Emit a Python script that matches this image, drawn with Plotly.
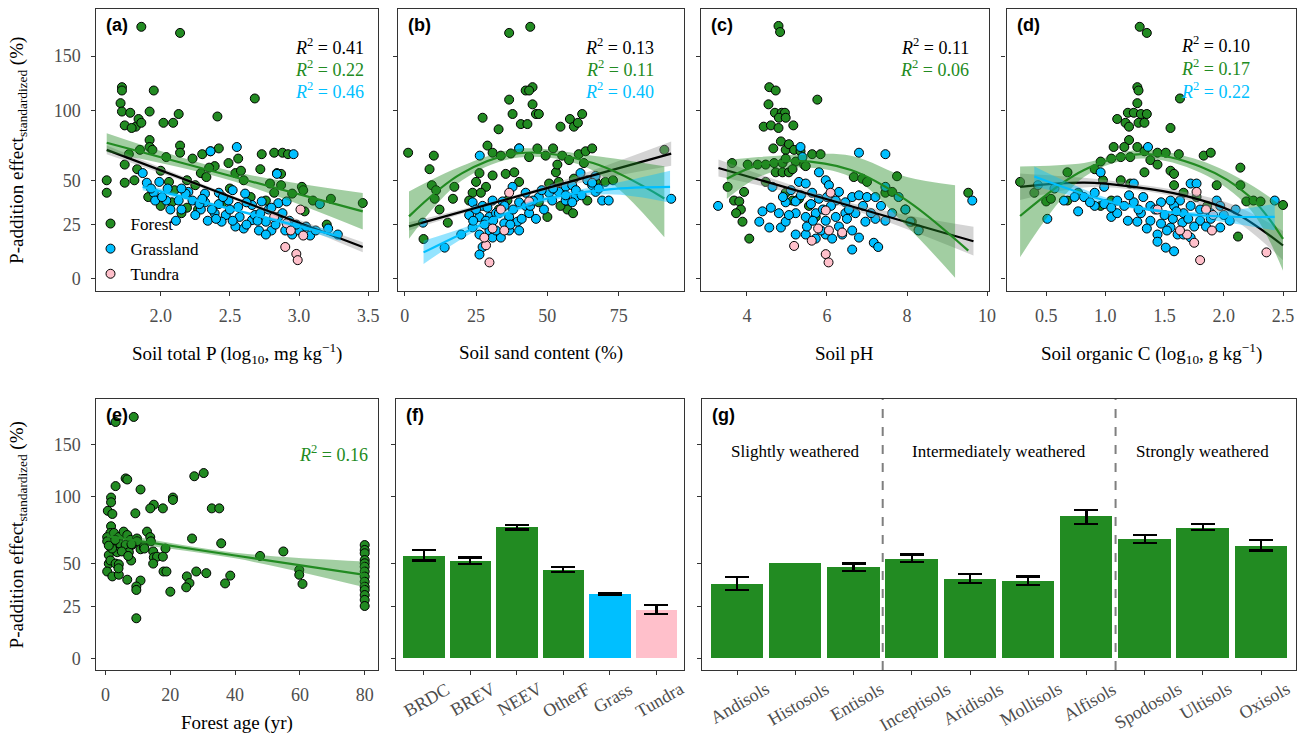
import numpy as np
import plotly.graph_objects as go

# ----------------------------- data -----------------------------
y_ticks_pct = [0, 25, 50, 100, 150]

# (a) soil total P (log10 mg/kg) vs effect (%)
a_forest_x = [1.86, 2.14, 1.72, 1.72, 1.95, 1.71, 2.68, 1.72, 1.78, 1.92, 2.13, 2.41, 1.74, 1.82, 1.84, 1.86, 2.02, 2.09, 1.79, 1.92,
              2.14, 1.92, 1.94, 2.42, 2.30, 2.36, 1.85, 2.73, 2.82, 2.88, 2.92, 2.04, 2.14, 2.23, 1.77, 1.74, 2.49, 2.56, 2.39, 2.29,
              1.83, 2.72, 2.84, 2.87, 1.61, 1.61, 1.74, 1.81, 1.91, 2.06, 2.19, 2.19, 2.27, 2.15, 2.54, 2.79, 2.87, 3.02, 3.03, 2.82,
              3.23, 3.46, 2.76, 3.04, 3.20, 2.45, 2.08, 2.0, 2.1, 2.25, 2.33, 2.5, 2.6, 2.65, 2.95, 3.1, 2.35, 2.58, 2.0]
a_forest_y = [182, 175, 120, 117, 117, 106, 110, 99, 98, 99, 97, 95, 88, 87, 93, 90, 90, 90, 86, 77,
              73, 72, 70, 71, 67, 69, 70, 67, 68, 68, 67, 65, 68, 64, 67, 60, 61, 64, 59, 54.5,
              57, 57, 54.5, 54, 50, 42.5, 48.5, 50, 40, 49, 50, 34, 33, 31, 54.5, 48, 47, 46, 44, 42.5,
              39, 36.6, 38, 32, 25, 37, 37, 56, 44, 47, 52, 45, 50, 40, 42, 38, 58, 56, 35]
a_grass_x = [2.55, 2.36, 2.96, 2.84, 1.87, 1.90, 1.99, 1.95, 1.96, 2.04, 2.13, 2.20, 2.32, 2.42, 2.52, 2.61, 2.23, 2.32, 2.42, 2.49,
             2.56, 2.66, 2.73, 2.07, 2.29, 2.39, 2.47, 2.57, 2.66, 2.76, 2.80, 2.85, 2.90, 2.95, 3.00, 3.08, 3.21, 3.28, 2.71, 2.60,
             2.76, 2.85, 2.91, 3.15, 2.11, 2.01, 2.18, 2.34, 2.44, 2.54, 2.28, 2.37, 2.45, 2.5, 2.62, 2.68, 2.7, 2.78, 2.83, 2.88,
             2.93, 2.98, 3.05, 3.12, 2.15, 2.05, 1.93, 2.25, 2.4, 2.52, 2.62, 2.72, 2.8, 2.3, 2.15]
a_grass_y = [72, 69, 67, 54, 54.5, 48.5, 49, 42.5, 38, 38, 38, 43, 42, 42.5, 44, 42, 38, 37, 36, 38,
             34.4, 35.5, 37.5, 33, 33, 31, 30, 29, 27.3, 26.5, 22, 29, 22, 20, 22, 19.5, 23, 20, 22, 23,
             20, 36.5, 37.5, 36, 27, 40, 42, 27, 26.5, 24, 36, 33, 40, 33, 37, 30, 27, 33, 25, 31,
             27, 25, 24, 22, 45, 45, 45, 30, 28, 27, 25, 31, 34, 39, 33]
a_tundra_x = [3.01, 2.91, 2.94, 2.90, 2.98, 2.99, 2.82, 3.03]
a_tundra_y = [33, 25.6, 22, 14, 10.8, 8, 29, 19.5]
a_black_x, a_black_mid, a_black_lo, a_black_hi = [1.61, 2.5, 3.46], [70, 40.3, 14], [67, 39.3, 11.6], [73, 41.3, 16.3]
a_green_x, a_green_mid, a_green_lo, a_green_hi = [1.61, 2.5, 3.46], [75, 52.8, 32], [68.5, 50, 22.5], [82, 56, 42.3]
a_blue_x, a_blue_mid, a_blue_lo, a_blue_hi = [1.87, 2.6, 3.30], [46, 31.5, 19], [44, 30.8, 16.9], [48, 32.3, 21.2]

# (b) soil sand content (%)
b_forest_x = [36.6, 44.0, 44.8, 42.4, 43.6, 36.6, 44.8, 46, 47, 27.3, 37.8, 40.7, 43, 32.9, 57.9, 62.2, 59.3, 54.6, 60.7, 1.2,
              10.2, 8.7, 29, 30.8, 33.7, 37.2, 40.1, 46.5, 52, 55.2, 57.6, 61, 63.4, 65.7, 43.6, 49.4, 26.2, 25, 28.5, 35.4,
              38.4, 40.1, 30.8, 53, 53.5, 50.6, 54, 59.3, 62.8, 67, 70.3, 73, 91, 9.5, 11, 10.5, 12.2, 16.9, 17.4, 15.1,
              6.6, 23.8, 26.7, 22.6, 50, 57, 59, 54.6, 64, 33, 36, 47]
b_forest_y = [175, 182, 120, 117, 117, 109, 105, 97, 97, 94, 97, 89, 89, 85, 93, 97, 87, 87, 90, 68,
              66, 57, 73, 68, 66, 67.5, 71, 71, 71, 66, 63, 67, 69, 71, 65, 66, 54.5, 49, 46, 54,
              55, 49, 53, 55, 60, 48, 49, 51, 61, 49, 49, 50, 70, 47, 44, 39, 33, 39, 46, 26,
              17.8, 42.5, 42.5, 38, 29, 33, 31, 35, 38, 33, 38, 37]
b_grass_x = [40.1, 26.3, 61.6, 64, 56.4, 58.7, 65.7, 66.9, 69.2, 71.5, 93.4, 37.8, 42.4, 47, 50.6, 54, 56.4, 59.9, 51.7, 30.8,
             34.3, 40.1, 42.4, 23.8, 27.3, 22.6, 26.2, 29.7, 32, 36.6, 39.5, 43.6, 46, 48.8, 23.8, 26.2, 29.7, 30.8, 33.7, 36.6,
             27.3, 26.2, 14, 19.8, 6.4, 34.9, 40.1, 58.7, 66.9, 65.7, 56.4, 28.5, 25, 28, 31, 33, 35, 38, 41, 44,
             24, 29, 32, 37, 45, 48, 52, 60, 62, 68]
b_grass_y = [71, 66, 54.5, 50, 46, 47, 47, 43, 38, 38, 39, 46, 42.5, 40, 42.5, 43, 38, 40, 38, 38,
             37.5, 37, 35, 37, 35, 30, 29, 29, 31, 29, 26.5, 31, 28, 33, 23.6, 20, 22, 18.5, 18.5, 22,
             14, 10.5, 13.7, 20, 26, 25.6, 22, 37, 52.7, 48.5, 41, 27, 33, 25, 27, 31, 35, 33, 28, 35,
             27, 34, 22, 25, 38, 44, 45, 44, 41, 45]
b_tundra_x = [29.7, 28.5, 30.8, 33.7, 43.6, 34.9, 27.9, 36.6]
b_tundra_y = [7, 14.8, 23, 33, 37.5, 22, 18.5, 42.5]
b_black_x, b_black_mid, b_black_lo, b_black_hi = [1.5, 47, 93.4], [24.1, 43.9, 67.4], [22.0, 42.8, 59.2], [26.2, 45.1, 75.9]
b_green_x = [1.5, 20, 40, 66, 91]
b_green_mid = [29.3, 54.3, 67.7, 61.0, 39.2]
b_green_lo = [17.9, 49.8, 64.7, 56.2, 18.6]
b_green_hi = [43.2, 59.0, 70.7, 65.9, 58.9]
b_blue_x = [6.6, 25, 48, 71.5, 93]
b_blue_mid = [11.5, 23.7, 38.3, 44.5, 46]
b_blue_lo = [6.3, 21.9, 36.6, 41.6, 36.8]
b_blue_hi = [17.0, 25.6, 39.9, 47.4, 56.0]

# (c) soil pH
c_forest_x = [4.79, 4.83, 4.56, 4.72, 5.76, 4.54, 4.70, 4.87, 4.95, 4.80, 4.97, 4.42, 4.60, 4.79, 5.16, 4.85, 4.66, 4.97, 5.05, 5.18,
              5.34, 5.63, 5.84, 3.63, 4.02, 4.27, 4.47, 4.68, 4.89, 4.97, 5.22, 5.43, 4.72, 4.89, 5.05, 5.14, 5.47, 6.67, 6.88, 7.0,
              7.75, 3.52, 3.68, 3.81, 3.93, 3.85, 3.73, 3.89, 4.06, 4.97, 5.14, 5.30, 5.55, 5.72, 7.46, 7.63, 7.96, 8.12, 8.29, 9.53,
              4.47]
c_forest_y = [183, 176, 120, 117, 109, 105, 98, 98, 98, 94, 94, 87, 88, 86, 88, 76, 71, 70, 74, 70,
              69, 67, 67, 61, 60, 60, 60, 61, 61, 64, 62, 60, 55, 55, 55, 57, 59, 52, 51, 49,
              52.5, 46, 38, 37.5, 43, 33, 31, 26.5, 18, 42.5, 38, 39, 35, 29, 42.5, 43, 33, 26.5, 22.5, 42.5,
              49]
c_grass_x = [3.28, 6.80, 7.46, 5.34, 9.63, 4.31, 4.56, 4.85, 4.39, 4.97, 5.22, 5.30, 5.47, 5.39, 5.80, 5.97, 5.63, 5.80, 6.05, 6.22,
             6.46, 6.63, 6.80, 7.0, 7.21, 7.46, 7.79, 5.22, 5.47, 5.72, 5.97, 6.22, 6.46, 6.71, 6.96, 7.21, 7.46, 7.63, 7.96, 8.08,
             8.29, 5.22, 5.47, 5.72, 5.97, 6.13, 6.38, 6.63, 6.80, 7.17, 7.28, 6.63, 4.80, 4.97, 4.60, 4.64, 6.05, 5.1, 5.35, 5.6,
             5.9, 6.1, 6.3, 6.5, 6.9, 5.5, 5.85, 6.3, 6.55, 7.1, 7.35, 5.05, 4.9, 5.65, 6.0]
c_grass_y = [35, 68, 67, 72, 38, 26.5, 23.5, 23.5, 32, 37, 37.5, 49, 48, 65, 55, 50, 42.5, 39, 40, 38,
             37, 40, 41, 40, 40, 46, 40, 31, 29, 31, 27, 29, 31, 31, 26.5, 28, 27, 31, 33, 26.5,
             22, 20, 20, 18, 20, 18, 20, 22, 18.5, 16, 14, 12.8, 31, 26.5, 34, 46, 47, 44, 41, 36,
             33, 35, 43, 28, 35, 24, 22, 24, 33, 31, 35, 30, 40, 27, 40]
c_tundra_x = [5.97, 6.04, 5.18, 5.62, 5.97, 6.09, 5.78, 6.05, 6.38]
c_tundra_y = [10.7, 7, 14.5, 17, 32.5, 42.5, 23, 22, 21]
c_black_x, c_black_mid, c_black_lo, c_black_hi = [3.29, 6.5, 9.66], [57.8, 35.5, 16.7], [52.3, 33.9, 10.1], [63.4, 37.2, 23.9]
c_green_x = [3.5, 4.3, 5.2, 6.6, 8.0, 9.53]
c_green_mid = [51, 59.8, 62.5, 56.5, 38, 12.3]
c_green_band_x = [3.5, 4.3, 5.2, 6.6, 8.0, 9.2]
c_green_lo = [39, 52, 58, 52, 24, 0.5]
c_green_hi = [63, 65, 66.5, 66, 52, 47]

# (d) soil organic C (log10 g/kg)
d_forest_x = [1.29, 1.35, 1.27, 1.28, 1.63, 1.27, 1.19, 1.24, 1.30, 1.35, 1.10, 1.17, 1.20, 1.28, 1.33, 1.55, 1.20, 1.16, 1.07, 1.27,
              1.33, 1.44, 1.51, 1.62, 1.83, 1.89, 0.96, 1.05, 1.13, 1.21, 1.38, 1.44, 1.55, 1.58, 2.14, 0.28, 0.40, 0.50, 0.54, 0.68,
              0.91, 0.98, 1.13, 1.21, 1.58, 1.66, 1.77, 1.86, 2.14, 2.19, 2.25, 2.31, 2.50, 2.12, 0.96, 1.05, 0.68, 0.77, 1.94, 1.33]
d_forest_y = [182, 175, 120, 117, 110, 106, 98, 98, 97, 97, 93, 90, 87, 90, 90, 86, 77, 72, 72, 72,
              69, 68, 68, 67, 66, 68, 62, 64, 65, 65, 63, 60, 56, 54, 58, 49, 42.5, 37.5, 39, 55,
              57, 50, 50, 48, 47, 42.5, 40, 35, 47, 37.5, 38, 37.5, 35.5, 19, 35, 38, 38, 42.5, 47, 55]
d_grass_x = [1.36, 1.72, 1.77, 2.43, 0.51, 0.43, 0.57, 0.65, 0.74, 0.77, 0.82, 0.91, 0.99, 0.91, 1.05, 0.99, 1.10, 1.16, 1.24, 1.30,
             1.38, 1.47, 1.10, 1.19, 1.27, 1.38, 1.47, 1.55, 1.44, 1.52, 1.61, 1.44, 1.51, 1.58, 1.66, 1.72, 1.80, 1.89, 1.94, 1.97,
             1.80, 1.89, 1.97, 1.63, 1.58, 1.66, 1.72, 2.05, 1.24, 0.96, 1.55, 1.2, 1.32, 1.42, 1.5, 1.57, 1.65, 1.7, 1.75, 1.85,
             2.0, 2.1, 1.35, 1.28, 1.05, 0.87, 1.6]
d_grass_y = [72, 48, 48, 38, 28, 47, 45, 38, 40, 32, 40, 42.5, 46, 35, 29, 36, 38, 35, 37, 31,
             35, 37, 31, 27, 26.5, 27, 25.5, 23.5, 20, 22, 20, 16.5, 13.7, 12, 31, 35, 33, 31, 38, 35,
             27, 28, 23.5, 38, 35, 20, 18.5, 27, 48, 55, 38, 41, 40, 33, 30, 28, 26, 28, 24, 24,
             30, 33, 23, 33, 34, 37, 32]
d_tundra_x = [1.80, 2.36, 1.75, 1.69, 1.63, 1.77, 1.85, 1.91, 1.90, 1.44]
d_tundra_y = [8, 11.5, 16, 20, 22, 43, 33, 30, 22, 33]
d_black_x = [0.28, 0.82, 1.24, 1.66, 2.08, 2.5]
d_black_mid = [46, 48.5, 46, 41, 31.7, 14.7]
d_black_lo = [38.3, 45.6, 44.3, 38.9, 27.8, 8.0]
d_black_hi = [54.3, 51.5, 47.8, 43.1, 35.7, 21.8]
d_green_x = [0.28, 0.82, 1.30, 1.80, 2.22, 2.50]
d_green_mid = [29.5, 56.5, 67, 58.7, 40.2, 17.9]
d_green_lo = [9.3, 52, 64, 54.8, 33.3, 3.4]
d_green_hi = [58.7, 61, 70, 62.7, 47.6, 34.4]
d_blue_x = [0.40, 1.10, 1.80, 2.43]
d_blue_mid = [52.4, 36.3, 29.9, 29]
d_blue_lo = [46.3, 34.9, 28.3, 22.1]
d_blue_hi = [58.8, 37.7, 31.5, 36.2]

# (e) forest age (yr)
e_forest_x = [3.1, 8.7, 6.2, 6.7, 3.1, 10.8, 27.4, 30.3, 1.7, 1.7, 0.7, 2.1, 9.2, 20.8, 20.8, 14.9, 13.8, 17.7, 32.8, 35.1,
              1.7, 1.5, 0.5, 2.6, 4.1, 5.6, 6.7, 7.7, 0.5, 3.1, 4.6, 6.2, 8.2, 9.7, 9.7, 12.8, 13.8, 14.0, 10.8, 11.8,
              26.7, 35.7, 1.0, 3.6, 7.2, 14.7, 14.9, 18.5, 15.9, 17.7, 47.7, 54.9, 1.0, 1.5, 3.1, 4.1, 7.9, 14.7, 0.5, 2.1,
              4.1, 6.7, 17.9, 18.8, 25.1, 28.0, 31.1, 25.9, 24.9, 38.5, 36.9, 10.8, 9.5, 9.5, 20.0, 9.5, 59.8, 59.8, 60.8,
              80, 80, 80, 80, 80, 80, 80, 80, 80, 80, 80, 80, 80, 80, 2, 5, 7, 1, 3, 8, 12, 4]
e_forest_y = [175, 181, 116, 115, 109, 106, 118, 121, 99, 95, 88, 85.5, 86, 99, 97, 93, 90, 90, 90, 90,
              76, 71, 68, 71, 68, 72, 69.5, 66, 65, 63.6, 63, 62.5, 62.5, 67, 65, 72, 68, 65, 59.5, 61,
              67, 63.6, 55.6, 57.5, 57.5, 58, 54, 60, 54.5, 54.5, 55, 58, 50, 52, 50, 49.5, 52, 50, 45, 42,
              43, 40, 45, 45, 42, 45, 44, 38, 35.5, 42.5, 37.8, 39.5, 36, 34, 33, 18.7, 46, 43, 37.5,
              62.4, 59, 56.8, 52.3, 50.2, 48, 45, 41.9, 38.8, 35.9, 34, 31.1, 28.4, 25.1, 60, 58, 55, 62, 66, 63, 60, 47]
e_fit_x, e_fit_mid, e_fit_lo, e_fit_hi = [0.5, 40, 80], [68.7, 55.3, 42.9], [65.3, 53.4, 35.5], [72.1, 57.2, 51.3]

# (f) vegetation types
f_cats = ["BRDC", "BREV", "NEEV", "OtherF", "Grass", "Tundra"]
f_vals = [55, 51.7, 75.4, 46, 31.7, 23.2]
f_lo = [52, 49.5, 73.5, 44.5, 31.2, 21]
f_hi = [59, 54, 77, 48, 32.2, 25.8]
f_biome = ["Forest", "Forest", "Forest", "Forest", "Grassland", "Tundra"]

# (g) soil orders (Histosols: no error bar)
g_cats = ["Andisols", "Histosols", "Entisols", "Inceptisols", "Aridisols", "Mollisols", "Alfisols", "Spodosols", "Ultisols", "Oxisols"]
g_vals = [37.7, 50.4, 47.8, 53.3, 40.4, 39.3, 83.7, 66.4, 75, 62]
g_lo = [34.2, None, 45.5, 51, 38, 36.9, 78, 64, 73, 58.6]
g_hi = [41.6, None, 50, 56, 43.3, 42, 89, 69.3, 78, 66]
g_groups = ["Slightly weathered", "Intermediately weathered", "Strongly weathered"]
g_group_sizes = [3, 4, 3]

r2_labels = {
    1: [("0.41", "black"), ("0.22", "forest"), ("0.46", "grass")],
    2: [("0.13", "black"), ("0.11", "forest"), ("0.40", "grass")],
    3: [("0.11", "black"), ("0.06", "forest")],
    4: [("0.10", "black"), ("0.17", "forest"), ("0.22", "grass")],
    5: [("0.16", "forest")],
}

# ----------------------------- style -----------------------------
W, H = 1311, 736
FOREST, GRASS, TUNDRA = "#228B22", "#00BFFF", "#FFC0CB"
COL = {"black": "black", "forest": FOREST, "grass": GRASS}
BAND_GREEN = "rgba(34,139,34,0.42)"
BAND_BLUE = "rgba(0,191,255,0.42)"
BAND_GREY = "rgba(153,153,153,0.42)"
BIOME_COL = {"Forest": FOREST, "Grassland": GRASS, "Tundra": TUNDRA}
SERIF = "Liberation Serif"
SANS = "Liberation Sans"
TICK_COL = "#4D4D4D"
FRAME = "#333333"


def L(v):
    return [None if p is None else float(np.log1p(p / 100.0)) for p in v]


def nm(i, k):
    return k if i == 1 else f"{k}{i}"


geo = {1: (97, 380, 9, 291), 2: (400, 688, 9, 291), 3: (705, 994, 9, 291), 4: (1012, 1303, 9, 291),
       5: (97, 380, 399, 670), 6: (398, 688, 399, 670), 7: (706, 1303, 399, 670)}

fig = go.Figure()


def points(i, xs, ys, color, name, legend=False):
    fig.add_trace(go.Scatter(x=xs, y=L(ys), mode="markers", name=name, showlegend=legend,
                             marker=dict(size=9, color=color, line=dict(color="black", width=1)),
                             xaxis=nm(i, "x"), yaxis=nm(i, "y"), hoverinfo="skip"))


def smooth(i, xs, mid, lo, hi, color, band, bx=None):
    bx = xs if bx is None else bx
    ax, ay = nm(i, "x"), nm(i, "y")
    fig.add_trace(go.Scatter(x=bx, y=L(lo), mode="lines", line=dict(width=0, shape="spline", color=band),
                             showlegend=False, xaxis=ax, yaxis=ay, hoverinfo="skip"))
    fig.add_trace(go.Scatter(x=bx, y=L(hi), mode="lines", line=dict(width=0, shape="spline", color=band),
                             fill="tonexty", fillcolor=band, showlegend=False, xaxis=ax, yaxis=ay, hoverinfo="skip"))
    fig.add_trace(go.Scatter(x=xs, y=L(mid), mode="lines", line=dict(width=2.2, shape="spline", color=color),
                             showlegend=False, xaxis=ax, yaxis=ay, hoverinfo="skip"))


# scatter panels
points(1, a_forest_x, a_forest_y, FOREST, "Forest", True)
points(1, a_grass_x, a_grass_y, GRASS, "Grassland", True)
points(1, a_tundra_x, a_tundra_y, TUNDRA, "Tundra", True)
smooth(1, a_black_x, a_black_mid, a_black_lo, a_black_hi, "black", BAND_GREY)
smooth(1, a_green_x, a_green_mid, a_green_lo, a_green_hi, FOREST, BAND_GREEN)
smooth(1, a_blue_x, a_blue_mid, a_blue_lo, a_blue_hi, GRASS, BAND_BLUE)

points(2, b_forest_x, b_forest_y, FOREST, "Forest")
points(2, b_grass_x, b_grass_y, GRASS, "Grassland")
points(2, b_tundra_x, b_tundra_y, TUNDRA, "Tundra")
smooth(2, b_black_x, b_black_mid, b_black_lo, b_black_hi, "black", BAND_GREY)
smooth(2, b_green_x, b_green_mid, b_green_lo, b_green_hi, FOREST, BAND_GREEN)
smooth(2, b_blue_x, b_blue_mid, b_blue_lo, b_blue_hi, GRASS, BAND_BLUE)

points(3, c_forest_x, c_forest_y, FOREST, "Forest")
points(3, c_grass_x, c_grass_y, GRASS, "Grassland")
points(3, c_tundra_x, c_tundra_y, TUNDRA, "Tundra")
smooth(3, c_black_x, c_black_mid, c_black_lo, c_black_hi, "black", BAND_GREY)
smooth(3, c_green_x, c_green_mid, c_green_lo, c_green_hi, FOREST, BAND_GREEN, bx=c_green_band_x)

points(4, d_forest_x, d_forest_y, FOREST, "Forest")
points(4, d_grass_x, d_grass_y, GRASS, "Grassland")
points(4, d_tundra_x, d_tundra_y, TUNDRA, "Tundra")
smooth(4, d_black_x, d_black_mid, d_black_lo, d_black_hi, "black", BAND_GREY)
smooth(4, d_green_x, d_green_mid, d_green_lo, d_green_hi, FOREST, BAND_GREEN)
smooth(4, d_blue_x, d_blue_mid, d_blue_lo, d_blue_hi, GRASS, BAND_BLUE)

points(5, e_forest_x, e_forest_y, FOREST, "Forest")
smooth(5, e_fit_x, e_fit_mid, e_fit_lo, e_fit_hi, FOREST, BAND_GREEN)


def err(vals, lo, hi):
    up = [float(np.log1p(h / 100) - np.log1p(v / 100)) for v, h in zip(vals, hi)]
    dn = [float(np.log1p(v / 100) - np.log1p(l / 100)) for v, l in zip(vals, lo)]
    return dict(type="data", symmetric=False, array=up, arrayminus=dn, color="black", thickness=2.2, width=12)


# (f) bars with error bars
fig.add_trace(go.Bar(x=f_cats, y=L(f_vals), width=0.9, marker=dict(color=[BIOME_COL[b] for b in f_biome], line=dict(width=0)),
                     error_y=err(f_vals, f_lo, f_hi), xaxis="x6", yaxis="y6", showlegend=False, hoverinfo="skip"))
# (g) bars, then error bars only where an interval exists
fig.add_trace(go.Bar(x=g_cats, y=L(g_vals), width=0.9, marker=dict(color=FOREST, line=dict(width=0)),
                     xaxis="x7", yaxis="y7", showlegend=False, hoverinfo="skip"))
has_err = [lo is not None for lo in g_lo]
ge_cats = [c for c, k in zip(g_cats, has_err) if k]
ge_vals = [v for v, k in zip(g_vals, has_err) if k]
ge_lo = [v for v, k in zip(g_lo, has_err) if k]
ge_hi = [v for v, k in zip(g_hi, has_err) if k]
fig.add_trace(go.Bar(x=ge_cats, y=L(ge_vals), width=0.9, marker=dict(color="rgba(0,0,0,0)", line=dict(width=0)),
                     error_y=err(ge_vals, ge_lo, ge_hi), xaxis="x7", yaxis="y7", showlegend=False, hoverinfo="skip"))

# ----------------------------- axes -----------------------------
axis_style = dict(showgrid=False, zeroline=False, showline=True, mirror=True, linecolor=FRAME, linewidth=1.2,
                  ticks="outside", ticklen=4, tickwidth=1.2, tickcolor=FRAME,
                  tickfont=dict(family=SERIF, size=18, color=TICK_COL))
x_specs = {
    1: dict(range=[1.536, 3.57], tickvals=[2.0, 2.5, 3.0, 3.5], tickformat=".1f"),
    2: dict(range=[-2.4, 98], tickvals=[0, 25, 50, 75]),
    3: dict(range=[2.86, 10.04], tickvals=[4, 6, 8, 10]),
    4: dict(range=[0.166, 2.61], tickvals=[0.5, 1.0, 1.5, 2.0, 2.5], tickformat=".1f"),
    5: dict(range=[-2.8, 84.1], tickvals=[0, 20, 40, 60, 80]),
    6: dict(type="category", range=[-0.6, 5.6], showticklabels=False),
    7: dict(type="category", range=[-0.6, 9.6], showticklabels=False, categoryorder="array", categoryarray=g_cats),
}
lay = {}
for i, (l, r, t, b) in geo.items():
    xk = "xaxis" if i == 1 else f"xaxis{i}"
    yk = "yaxis" if i == 1 else f"yaxis{i}"
    lay[xk] = dict(domain=[l / W, r / W], anchor=nm(i, "y"), ticklabelstandoff=4, **axis_style, **x_specs[i])
    lay[yk] = dict(domain=[1 - b / H, 1 - t / H], anchor=nm(i, "x"), range=[-0.05, 1.11],
                   tickvals=L(y_ticks_pct), ticktext=[str(v) for v in y_ticks_pct],
                   showticklabels=(i in (1, 5)), ticklabelstandoff=7, **axis_style)

# ----------------------------- annotations -----------------------------
ann = []
labels = "abcdefg"
for i, (l, r, t, b) in geo.items():
    ann.append(dict(text=f"<b>({labels[i-1]})</b>", x=(l + 8) / W, y=1 - (t + 16) / H, xref="paper", yref="paper",
                    xanchor="left", yanchor="middle", showarrow=False, font=dict(family=SANS, size=18, color="black")))

r2_right = {1: 368, 2: 660, 3: 976, 4: 1259, 5: 372}
r2_y0 = {1: 46, 2: 46, 3: 46, 4: 45, 5: 453}
for i, items in r2_labels.items():
    for k, (val, c) in enumerate(items):
        ann.append(dict(text=f"<i>R</i><sup>2</sup> = {val}", x=r2_right[i] / W, y=1 - (r2_y0[i] + 22.5 * k) / H,
                        xref="paper", yref="paper", xanchor="right", yanchor="middle", showarrow=False,
                        font=dict(family=SERIF, size=18, color=COL[c])))

x_titles = {1: "Soil total P (log<sub>10</sub>, mg kg<sup>−1</sup>)", 2: "Soil sand content (%)", 3: "Soil pH",
            4: "Soil organic C (log<sub>10</sub>, g kg<sup>−1</sup>)", 5: "Forest age (yr)"}
for i, txt in x_titles.items():
    l, r, t, b = geo[i]
    off = 62 if i < 5 else 53
    ann.append(dict(text=txt, x=(l + r) / 2 / W, y=1 - (b + off) / H, xref="paper", yref="paper",
                    xanchor="center", yanchor="middle", showarrow=False, font=dict(family=SERIF, size=19, color="black")))

for i in (1, 5):
    l, r, t, b = geo[i]
    ann.append(dict(text="P-addition effect<sub>standardized</sub> (%)", x=18 / W, y=1 - (t + b) / 2 / H,
                    xref="paper", yref="paper", xanchor="center", yanchor="middle", textangle=-90, showarrow=False,
                    font=dict(family=SERIF, size=19, color="black")))

for i, cats in ((6, f_cats), (7, g_cats)):
    for c in cats:
        ann.append(dict(text=c, x=c, xref=f"x{i}", xshift=3, y=1 - 676 / H, yref="paper", xanchor="center", yanchor="top",
                        textangle=-30, showarrow=False, font=dict(family=SERIF, size=18, color=TICK_COL)))

# weathering groups in (g)
start = 0
shapes = []
for gi, (gname, size) in enumerate(zip(g_groups, g_group_sizes)):
    centre = start + (size - 1) / 2
    ann.append(dict(text=gname, x=centre, xref="x7", y=1 - 452 / H, yref="paper", xanchor="center", yanchor="middle",
                    showarrow=False, font=dict(family=SERIF, size=17, color="black")))
    end = start + size
    if gi < len(g_groups) - 1:
        shapes.append(dict(type="line", xref="x7", yref="y7 domain", x0=end - 0.5, x1=end - 0.5, y0=0, y1=1,
                           line=dict(color="#7F7F7F", width=2, dash="dash")))
    start = end

fig.update_layout(
    width=W, height=H, margin=dict(l=0, r=0, t=0, b=0),
    paper_bgcolor="white", plot_bgcolor="white",
    annotations=ann, shapes=shapes, bargap=0, barmode="overlay",
    legend=dict(x=91 / W, y=1 - 206 / H, xanchor="left", yanchor="top", bgcolor="rgba(0,0,0,0)", traceorder="normal",
                font=dict(family=SERIF, size=17, color="black"), tracegroupgap=0, itemwidth=30),
    **lay,
)

fig.write_html("out.html", config={"displayModeBar": False},
               post_script="document.body.style.margin='0';document.body.style.overflow='hidden';")
